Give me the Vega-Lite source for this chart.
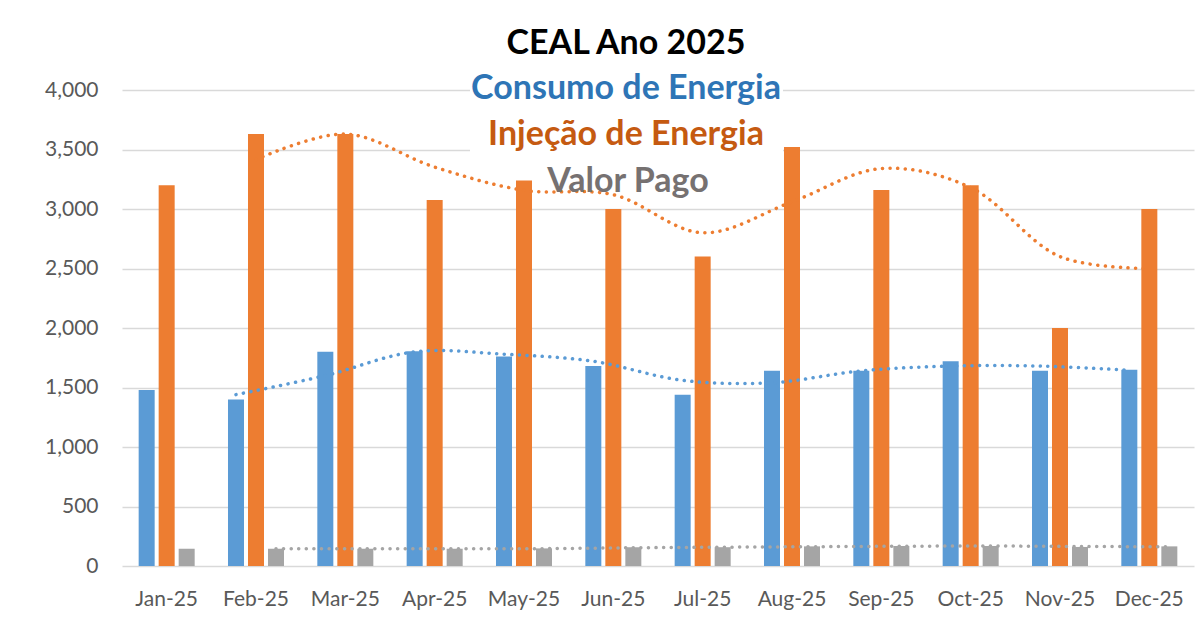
{
  "$schema": "https://vega.github.io/schema/vega-lite/v6.json",
  "width": 1072,
  "height": 476,
  "autosize": {"type": "none"},
  "padding": {"left": 122, "top": 90, "right": 4, "bottom": 67},
  "background": "white",
  "config": {"view": {"stroke": null}, "font": "Lato"},
  "title": {
    "text": "Valor Pago", "font": "Lato", "fontSize": 34, "fontWeight": "bold", "color": "#767171",
    "anchor": "middle", "dx": -30, "dy": 178
  },
  "data": {
    "values": [
      {"month": "Jan-25", "series": "Consumo de Energia", "value": 1480, "trend": null},
      {"month": "Feb-25", "series": "Consumo de Energia", "value": 1400, "trend": 1440},
      {"month": "Mar-25", "series": "Consumo de Energia", "value": 1800, "trend": 1600},
      {"month": "Apr-25", "series": "Consumo de Energia", "value": 1805, "trend": 1800},
      {"month": "May-25", "series": "Consumo de Energia", "value": 1760, "trend": 1780},
      {"month": "Jun-25", "series": "Consumo de Energia", "value": 1680, "trend": 1720},
      {"month": "Jul-25", "series": "Consumo de Energia", "value": 1440, "trend": 1560},
      {"month": "Aug-25", "series": "Consumo de Energia", "value": 1640, "trend": 1540},
      {"month": "Sep-25", "series": "Consumo de Energia", "value": 1640, "trend": 1640},
      {"month": "Oct-25", "series": "Consumo de Energia", "value": 1720, "trend": 1680},
      {"month": "Nov-25", "series": "Consumo de Energia", "value": 1640, "trend": 1680},
      {"month": "Dec-25", "series": "Consumo de Energia", "value": 1650, "trend": 1645},
      {"month": "Jan-25", "series": "Injeção de Energia", "value": 3200, "trend": null},
      {"month": "Feb-25", "series": "Injeção de Energia", "value": 3630, "trend": 3415},
      {"month": "Mar-25", "series": "Injeção de Energia", "value": 3630, "trend": 3630},
      {"month": "Apr-25", "series": "Injeção de Energia", "value": 3075, "trend": 3352},
      {"month": "May-25", "series": "Injeção de Energia", "value": 3240, "trend": 3157},
      {"month": "Jun-25", "series": "Injeção de Energia", "value": 3000, "trend": 3120},
      {"month": "Jul-25", "series": "Injeção de Energia", "value": 2600, "trend": 2800},
      {"month": "Aug-25", "series": "Injeção de Energia", "value": 3520, "trend": 3060},
      {"month": "Sep-25", "series": "Injeção de Energia", "value": 3160, "trend": 3340},
      {"month": "Oct-25", "series": "Injeção de Energia", "value": 3200, "trend": 3180},
      {"month": "Nov-25", "series": "Injeção de Energia", "value": 2000, "trend": 2600},
      {"month": "Dec-25", "series": "Injeção de Energia", "value": 3000, "trend": 2500},
      {"month": "Jan-25", "series": "Valor Pago", "value": 145, "trend": null},
      {"month": "Feb-25", "series": "Valor Pago", "value": 145, "trend": 145},
      {"month": "Mar-25", "series": "Valor Pago", "value": 145, "trend": 145},
      {"month": "Apr-25", "series": "Valor Pago", "value": 145, "trend": 145},
      {"month": "May-25", "series": "Valor Pago", "value": 148, "trend": 146},
      {"month": "Jun-25", "series": "Valor Pago", "value": 158, "trend": 153},
      {"month": "Jul-25", "series": "Valor Pago", "value": 158, "trend": 158},
      {"month": "Aug-25", "series": "Valor Pago", "value": 165, "trend": 162},
      {"month": "Sep-25", "series": "Valor Pago", "value": 168, "trend": 166},
      {"month": "Oct-25", "series": "Valor Pago", "value": 168, "trend": 168},
      {"month": "Nov-25", "series": "Valor Pago", "value": 160, "trend": 164},
      {"month": "Dec-25", "series": "Valor Pago", "value": 165, "trend": 162}
    ]
  },
  "encoding": {
    "x": {
      "field": "month", "type": "nominal", "sort": null, "title": null,
      "scale": {"paddingInner": 0.373, "paddingOuter": 0.1865},
      "axis": {"labelAngle": 0, "labelFont": "Lato", "labelFontSize": 21, "labelColor": "#595959", "labelPadding": 22, "ticks": false, "tickSize": 0, "domain": false, "grid": false}
    },
    "xOffset": {"field": "series", "type": "nominal", "scale": {"paddingInner": 0.2, "paddingOuter": 0}},
    "color": {
      "field": "series", "type": "nominal",
      "scale": {"domain": ["Consumo de Energia", "Injeção de Energia", "Valor Pago"], "range": ["#5B9BD5", "#ED7D31", "#A5A5A5"]},
      "legend": {
        "orient": "none", "legendX": 348, "legendY": -65, "direction": "vertical",
        "values": ["Consumo de Energia", "Injeção de Energia"],
        "title": "CEAL Ano 2025", "titleFont": "Lato", "titleFontSize": 34, "titleFontWeight": "bold", "titleColor": "#000000",
        "titleAnchor": "middle", "titlePadding": 11, "titleLimit": 700,
        "labelFont": "Lato", "labelFontSize": 34, "labelFontWeight": "bold", "labelLimit": 700, "labelOffset": 0,
        "symbolSize": 0, "symbolOpacity": 0, "symbolStrokeWidth": 0, "rowPadding": 12,
        "fillColor": "white", "padding": 2,
        "encode": {
          "labels": {
            "update": {
              "fill": {"signal": "datum.value === 'Consumo de Energia' ? '#2E75B6' : datum.value === 'Injeção de Energia' ? '#C55A11' : '#767171'"},
              "align": {"value": "center"},
              "x": {"value": 154}
            }
          }
        }
      }
    }
  },
  "layer": [
    {
      "mark": {"type": "bar"},
      "encoding": {
        "y": {
          "field": "value", "type": "quantitative", "title": null,
          "scale": {"domain": [0, 4000], "nice": false},
          "axis": {"values": [0, 500, 1000, 1500, 2000, 2500, 3000, 3500, 4000], "format": ",.0f", "labelFont": "Lato", "labelFontSize": 21, "labelColor": "#595959", "labelPadding": 24, "ticks": false, "tickSize": 0, "domain": false, "grid": true, "gridColor": "#D9D9D9", "gridWidth": 1.5}
        }
      }
    },
    {
      "mark": {"type": "line", "strokeDash": [0.1, 7.5], "strokeCap": "round", "strokeWidth": 3.5, "interpolate": "catmull-rom"},
      "encoding": {
        "y": {"field": "trend", "type": "quantitative"}
      }
    }
  ]
}
